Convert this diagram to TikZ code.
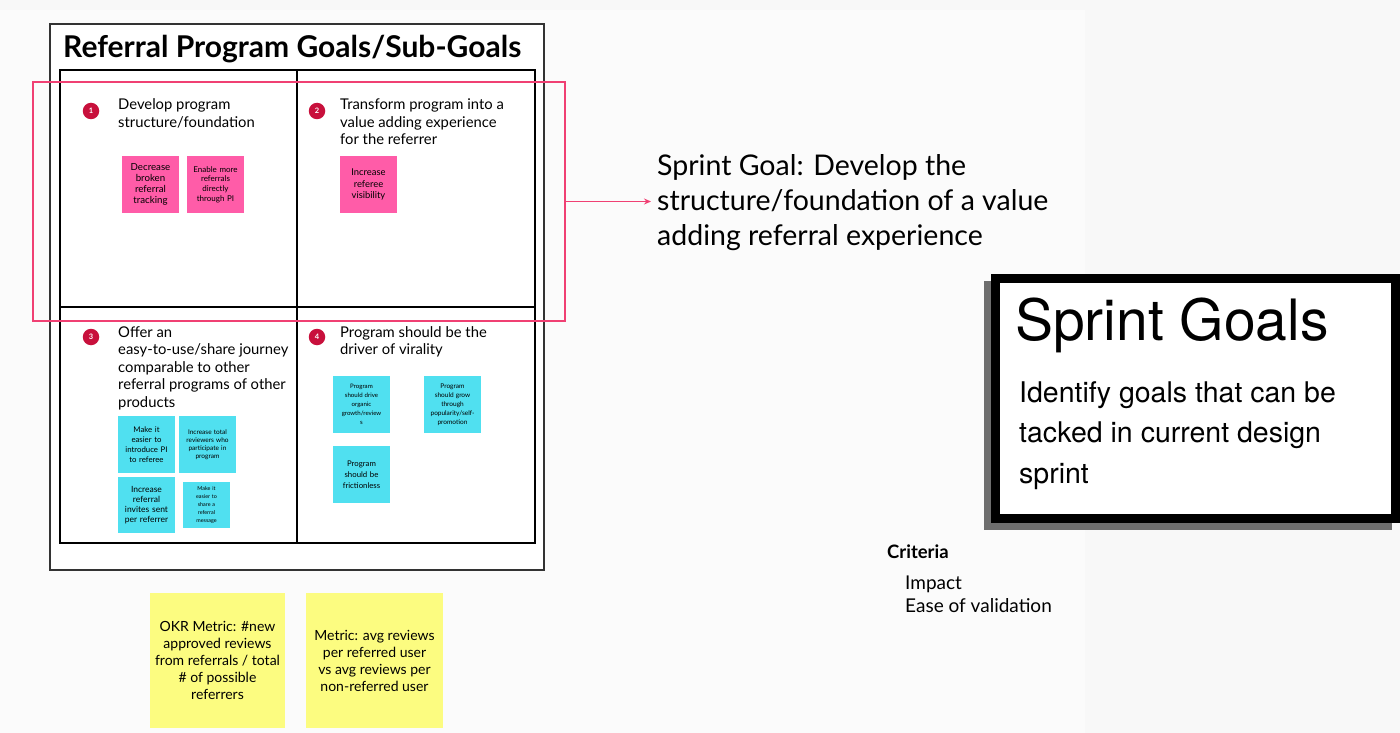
\documentclass[tikz,border=0pt]{standalone}
\usepackage{fontspec}
\setmainfont{Lato}
\newfontfamily\cardfont{TeX Gyre Heros}
\usetikzlibrary{arrows.meta,positioning}
\definecolor{boardbg}{RGB}{248,248,248}
\definecolor{panelbg}{RGB}{251,251,251}
\definecolor{focuspink}{RGB}{240,64,115}
\definecolor{notepink}{RGB}{255,92,168}
\definecolor{notecyan}{RGB}{80,224,240}
\definecolor{noteyellow}{RGB}{252,252,128}
\definecolor{badgered}{RGB}{200,16,60}
\definecolor{cardshadow}{RGB}{110,110,110}

\begin{document}
\begin{tikzpicture}[x=1pt,y=-1pt,
    sticky/.style={minimum width=57pt,minimum height=57pt,inner sep=1pt,align=center,text width=55pt},
    pinknote/.style={sticky,fill=notepink},
    cyannote/.style={sticky,fill=notecyan},
    metricnote/.style={fill=noteyellow,minimum height=135pt,align=center,font=\fontsize{14}{17}\selectfont},
    badge/.style={circle,fill=badgered,text=white,minimum size=16.5pt,inner sep=0pt,font=\fontsize{7.5}{8}\selectfont\bfseries},
    goaltext/.style={anchor=base west,inner sep=0pt,align=left,font=\fontsize{14.8}{17.5}\selectfont}]
    \useasboundingbox (0,0) rectangle (1400,733);
    % Background
    \fill[boardbg] (0,0) rectangle (1400,733);
    \fill[panelbg] (0,10) rectangle (1085,733);

    % Board frame and grid
    \draw[line width=1.3pt,black!80,fill=white] (50,24) rectangle (544,570);
    \node[anchor=base west,inner sep=0pt,font=\fontsize{30}{32}\selectfont\bfseries] (title) at (63,58) {Referral Program Goals/Sub-Goals};
    \draw[line width=1.3pt] (60,70) rectangle (535,543);
    \draw[line width=1.3pt] (297,70) -- (297,543);
    \draw[line width=1.3pt] (60,307) -- (535,307);

    % Goal 1 (anchors sit on the last line)
    \node[badge] (b1) at (91,111) {1};
    \node[goaltext] (g1) at (118,127.5) {Develop program\\structure/foundation};
    \node[pinknote,font=\fontsize{9.7}{11}\selectfont] (n11) at (150.5,184.5) {Decrease\\broken\\referral\\tracking};
    \node[pinknote,font=\fontsize{8}{9.8}\selectfont] (n12) at (215.5,184.5) {Enable more\\referrals\\directly\\through PI};

    % Goal 2
    \node[badge] (b2) at (317,111) {2};
    \node[goaltext] (g2) at (340,145) {Transform program into a\\value adding experience\\for the referrer};
    \node[pinknote,font=\fontsize{9.4}{11.7}\selectfont] (n21) at (368.5,184.5) {Increase\\referee\\visibility};

    % Goal 3
    \node[badge] (b3) at (91,337) {3};
    \node[goaltext] (g3) at (118,407) {Offer an\\easy-to-use/share journey\\comparable to other\\referral programs of other\\products};
    \node[cyannote,font=\fontsize{7.8}{10}\selectfont] (n31) at (146.5,444.5) {Make it\\easier to\\introduce PI\\to referee};
    \node[cyannote,font=\fontsize{6.5}{8.2}\selectfont] (n32) at (207.5,444.5) {Increase total\\reviewers who\\participate in\\program};
    \node[cyannote,font=\fontsize{8.5}{10}\selectfont,minimum height=56pt] (n33) at (146.5,505) {Increase\\referral\\invites sent\\per referrer};
    \node[cyannote,font=\fontsize{5.4}{7.9}\selectfont,minimum width=47pt,minimum height=46pt,text width=45pt] (n34) at (206.5,505) {Make it\\easier to\\share a\\referral\\message};

    % Goal 4
    \node[badge] (b4) at (317,337) {4};
    \node[goaltext] (g4) at (340,354.5) {Program should be the\\driver of virality};
    \node[cyannote,font=\fontsize{6.1}{9}\selectfont] (n41) at (361.5,404.5) {Program\\should drive\\organic\\growth/review\\s};
    \node[cyannote,font=\fontsize{6.5}{9}\selectfont] (n42) at (452.5,404.5) {Program\\should grow\\through\\popularity/self-\\promotion};
    \node[cyannote,font=\fontsize{7.8}{11}\selectfont] (n43) at (361.5,474.5) {Program\\should be\\frictionless};

    % Focus region and sprint goal
    \node[draw=focuspink,line width=1.4pt,minimum width=532pt,minimum height=239pt,inner sep=0pt] (focus) at (299,201.5) {};
    \node[anchor=base west,inner sep=0pt,align=left,font=\fontsize{28.5}{35}\selectfont] (sgoal) at (657,245) {Sprint Goal: Develop the\\structure/foundation of a value\\adding referral experience};
    \draw[focuspink,line width=1.2pt,-{Stealth[length=7pt,width=6pt]},shorten >=6pt] (focus.east) -- (focus.east -| sgoal.west);

    % Metric notes
    \node[metricnote,minimum width=135pt] (okr) at (217.5,660.5) {OKR Metric: \#new\\approved reviews\\from referrals / total\\\# of possible\\referrers};
    \node[metricnote,minimum width=137pt] (avg) at (374.5,660.5) {Metric: avg reviews\\per referred user\\vs avg reviews per\\non-referred user};

    % Sprint goals card
    \fill[cardshadow] (984,281) rectangle (1392,530);
    \node[draw=black,line width=9pt,fill=white,minimum width=400pt,minimum height=240pt] (card) at (1195.5,398.5) {};
    \node[anchor=base west,inner sep=0pt,font=\cardfont\fontsize{57}{60}\selectfont] (cardtitle) at (1015,340) {Sprint Goals};
    \node[anchor=base west,inner sep=0pt,align=left,font=\cardfont\fontsize{28.5}{40.5}\selectfont] (cardbody) at (1019,483) {Identify goals that can be\\tacked in current design\\sprint};

    % Criteria
    \node[anchor=base west,inner sep=0pt,font=\fontsize{18.5}{20}\selectfont\bfseries] (crit) at (887,558) {Criteria};
    \node[anchor=base west,inner sep=0pt,align=left,font=\fontsize{19}{23.5}\selectfont] (critlist) at (905,612.5) {Impact\\Ease of validation};
\end{tikzpicture}
\end{document}
